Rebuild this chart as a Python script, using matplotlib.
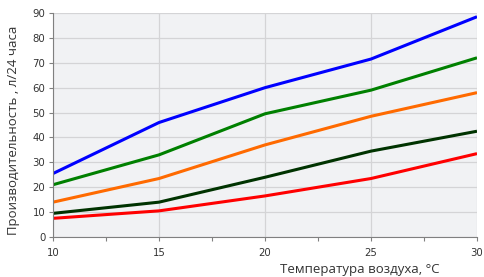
import matplotlib.pyplot as plt
import numpy as np

temps = [10, 15, 20, 25, 30]
blue = [25.5, 46, 60, 71.5, 88.5]
green = [21, 33, 49.5, 59, 72]
orange = [14, 23.5, 37, 48.5, 58]
dark = [9.5, 14, 24, 34.5, 42.5]
red = [7.5, 10.5, 16.5, 23.5, 33.5]

series = [(blue, "#0000ff"), (green, "#008000"), (orange, "#ff6a00"),
          (dark, "#003300"), (red, "#ff0000")]

fig = plt.figure(figsize=(4.85, 2.77), dpi=100)
ax = fig.add_axes([53 / 485, 40 / 277, 424 / 485, 224 / 277])
ax.set_facecolor("#f1f2f4")

for vals, col in series:
    ax.plot(temps, vals, color=col, linewidth=2.2, solid_capstyle="butt")

ax.set_xlim(10, 30)
ax.set_ylim(0, 90)
ax.set_xticks([10, 15, 20, 25, 30])
ax.set_xticks(np.arange(10, 30.1, 2.5), minor=True)
ax.set_yticks(range(0, 91, 10))
ax.grid(True, color="#d4d4d6", linewidth=0.9)
ax.set_axisbelow(True)

for s in ["top", "right"]:
    ax.spines[s].set_visible(False)
for s in ["left", "bottom"]:
    ax.spines[s].set_color("#808080")
ax.tick_params(axis="both", which="both", labelsize=7.3, colors="#808080",
               labelcolor="#333333", length=3, width=0.8)
ax.tick_params(axis="x", pad=5)
ax.tick_params(axis="y", pad=2.5)

fig.text(280 / 485, 1 - 273 / 277, "Температура воздуха, °C", ha="left",
         va="baseline", fontsize=9.5, color="#333333", family="Open Sans")
fig.text(0.027, 1 - 130 / 277, "Производительность , л/24 часа", rotation=90,
         ha="center", va="center", fontsize=9.5, color="#333333",
         family="Open Sans")

fig.savefig("out.png", dpi=100)
